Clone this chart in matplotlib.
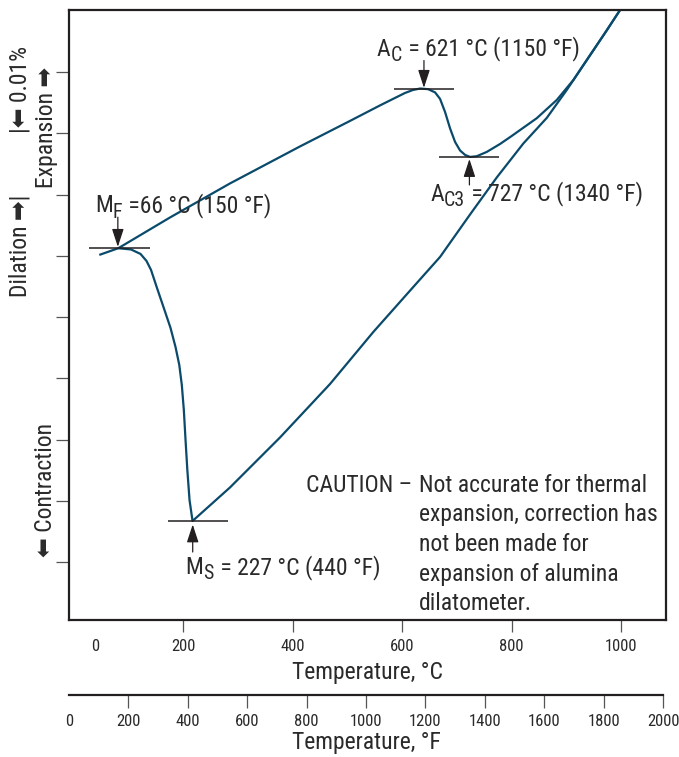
import matplotlib
matplotlib.use('Agg')
import matplotlib.pyplot as plt
from matplotlib import font_manager as fm
from matplotlib import transforms as mtrans
from matplotlib.patches import ArrowStyle

# ---------------- data ----------------
heat_temp_c = [47.1, 81.8, 176.3, 285.8, 413.7, 505.0, 559.8, 587.2, 605.5, 620.1,
               632.9, 647.5, 660.3, 669.4, 678.5, 687.7, 696.8, 705.9, 715.1, 724.2,
               736.4, 754.7, 779.0, 799.1, 846.0, 882.6, 912.9, 943.4, 973.9, 998.2]
heat_dil_pct = [0.05015, 0.05124, 0.05626, 0.06181, 0.06785, 0.07201, 0.07454, 0.07576,
                0.07657, 0.07706, 0.07729, 0.07719, 0.07666, 0.07560, 0.07347, 0.07078,
                0.06858, 0.06719, 0.06646, 0.06613, 0.06625, 0.06695, 0.06825, 0.06948,
                0.07245, 0.07543, 0.07869, 0.08277, 0.08677, 0.09011]

cool_temp_c = [998.2, 949.4, 900.8, 864.3, 821.6, 773.0, 724.2, 669.4, 620.6, 547.6,
               468.5, 377.2, 285.8, 217.4, 211.9, 207.9, 204.6, 201.5, 197.8, 193.2,
               186.3, 177.2, 164.9, 152.5, 141.6, 133.3, 122.4, 105.0, 81.8]
cool_dil_pct = [0.09011, 0.08351, 0.07706, 0.07250, 0.06834, 0.06279, 0.05675, 0.04982,
                0.04493, 0.03759, 0.02910, 0.02038, 0.01222, 0.00675, 0.01018, 0.01507,
                0.01997, 0.02486, 0.02894, 0.03220, 0.03514, 0.03824, 0.04150, 0.04476,
                0.04770, 0.04917, 0.05031, 0.05104, 0.05124]

# critical points: symbol, subscript, rest of label
crit_symbol = ['M', 'A', 'A', 'M']
crit_sub = ['F', 'C', 'C3', 'S']
crit_rest = [' =66 °C (150 °F)', ' = 621 °C (1150 °F)', ' = 727 °C (1340 °F)',
             ' = 227 °C (440 °F)']
crit_temp_c = [81.0, 640.0, 723.0, 217.7]
crit_dil_pct = [0.05124, 0.07729, 0.06613, 0.00675]

c_ticks = [0, 200, 400, 600, 800, 1000]
f_ticks = [0, 200, 400, 600, 800, 1000, 1200, 1400, 1600, 1800, 2000]
dil_ticks = [0.00, 0.01, 0.02, 0.03, 0.04, 0.05, 0.06, 0.07, 0.08]

caution_head = 'CAUTION –'
caution_body = ['Not accurate for thermal', 'expansion, correction has',
                'not been made for', 'expansion of alumina', 'dilatometer.']

# ---------------- style ----------------
avail = {f.name for f in fm.fontManager.ttflist}
FONT, K = 'DejaVu Sans', 0.8
for name, k in [('Roboto Condensed', 1.0), ('Archivo Narrow', 1.0),
                ('Liberation Sans Narrow', 1.0), ('Roboto', 0.9)]:
    if name in avail:
        FONT, K = name, k
        break
plt.rcParams['font.family'] = [FONT, 'DejaVu Sans']

INK = '#231f20'
TXT = '#2a2a2a'
TICK = '#555555'
CURVE = '#0a4a6b'
BIG = 17 * K
SMALL = 12 * K

W, H = 679, 757
fig = plt.figure(figsize=(W / 100, H / 100), dpi=100)
renderer = fig.canvas.get_renderer()


def fx(px):
    return px / W


def fy(py):
    return 1 - py / H


ax = fig.add_axes([fx(69), fy(620), fx(666) - fx(69), fy(10) - fy(620)])
ax.set_xlim(-8.2, 1082)
ax.set_ylim(-0.0094, 0.0901)

ax.plot(heat_temp_c, heat_dil_pct, color=CURVE, lw=1.6,
        solid_joinstyle='round', solid_capstyle='butt')
ax.plot(cool_temp_c, cool_dil_pct, color=CURVE, lw=1.6,
        solid_joinstyle='round', solid_capstyle='butt')


def rich_label(x, y, dx, dy, pieces):
    """pieces: (text, size scale, vertical shift in px); laid out left to right."""
    off = dx
    for s, scale, ddy in pieces:
        tr = ax.transData + mtrans.Affine2D().translate(off, dy + ddy)
        t = ax.text(x, y, s, transform=tr, fontsize=BIG * scale, ha='left',
                    va='baseline', color=TXT)
        off += t.get_window_extent(renderer).width + (1.0 if scale < 1 else 0.0)


# horizontal reference bars, arrows and labels at the critical points
bar_left = [52, 55, 55, 45]
bar_right = [59, 55, 54, 65]
arrow_dy = [31, 28, -28, -31]
arrow_shrink = [1.0, 0.5, 1.5, 2.5]
label_dx = [-23, -47, -39, -7]
label_dy = [36, 33, -44, -53]
head = ArrowStyle('-|>', head_length=1.1, head_width=0.36)
for i in range(len(crit_temp_c)):
    t, d = crit_temp_c[i], crit_dil_pct[i]
    ax.plot([t - bar_left[i], t + bar_right[i]], [d, d], color=INK, lw=1.1,
            solid_capstyle='butt')
    ax.annotate('', xy=(t, d), xytext=(0, arrow_dy[i]), textcoords='offset pixels',
                arrowprops=dict(arrowstyle=head, color=INK, lw=0.9,
                                shrinkA=0, shrinkB=arrow_shrink[i], mutation_scale=10))
    rich_label(t, d, label_dx[i], label_dy[i],
               [(crit_symbol[i], 1.0, 0), (crit_sub[i], 0.84, -5.5), (crit_rest[i], 1.0, 0)])

# spines / ticks of main axes
for s in ax.spines.values():
    s.set_linewidth(1.6)
    s.set_color(INK)
ax.set_xticks(c_ticks)
ax.set_xticklabels([str(v) for v in c_ticks])
ax.set_yticks(dil_ticks)
ax.set_yticklabels([])
ax.tick_params(axis='x', direction='out', length=8.6, width=0.9, color=TICK,
               pad=5, labelsize=SMALL, labelcolor=TXT)
ax.tick_params(axis='y', direction='out', length=9.5, width=0.9, color=TICK)
t0 = ax.xaxis.get_major_ticks()[0]
t0.tick1line.set_visible(False)
t0.label1.set_transform(t0.label1.get_transform() +
                        mtrans.ScaledTranslation(0.22, 0, fig.dpi_scale_trans))

# Fahrenheit axis
axf = fig.add_axes([fx(69), fy(695), fx(663) - fx(69), 1e-4])
axf.set_xlim(0, 2000)
axf.set_yticks([])
axf.patch.set_visible(False)
for side in ['top', 'left', 'right']:
    axf.spines[side].set_visible(False)
axf.spines['bottom'].set_linewidth(1.6)
axf.spines['bottom'].set_color(INK)
axf.set_xticks(f_ticks)
axf.set_xticklabels([str(v) for v in f_ticks])
axf.tick_params(axis='x', direction='out', length=9.4, width=0.9, color=TICK,
                pad=4, labelsize=SMALL, labelcolor=TXT)
axf.xaxis.get_major_ticks()[0].tick1line.set_visible(False)

# axis titles
fig.text(fx(367.5), fy(679), 'Temperature, °C', ha='center', va='baseline',
         fontsize=BIG, color=TXT)
fig.text(fx(366), fy(749), 'Temperature, °F', ha='center', va='baseline',
         fontsize=BIG, color=TXT)

# vertical side labels
blend = mtrans.blended_transform_factory(fig.transFigure, ax.transData)
fig.text(fx(20), dil_ticks[6], 'Dilation \u27a1|', rotation=90, ha='center', va='top',
         transform=blend, fontsize=BIG, color=TXT)
fig.text(fx(20), dil_ticks[7], '|\u2b05 0.01%', rotation=90, ha='center', va='bottom',
         transform=blend, fontsize=BIG, color=TXT)
fig.text(fx(47), fy(127), 'Expansion \u27a1', rotation=90, ha='center', va='center',
         fontsize=BIG, color=TXT)
fig.text(fx(45), fy(490), '\u2b05 Contraction', rotation=90, ha='center', va='center',
         fontsize=BIG, color=TXT)

# caution note
fig.text(fx(412), fy(492), caution_head, ha='right', va='baseline', fontsize=BIG, color=TXT)
for i, line in enumerate(caution_body):
    fig.text(fx(419), fy(492 + 29.5 * i), line, ha='left', va='baseline',
             fontsize=BIG, color=TXT)

fig.savefig('out.png', dpi=100)
